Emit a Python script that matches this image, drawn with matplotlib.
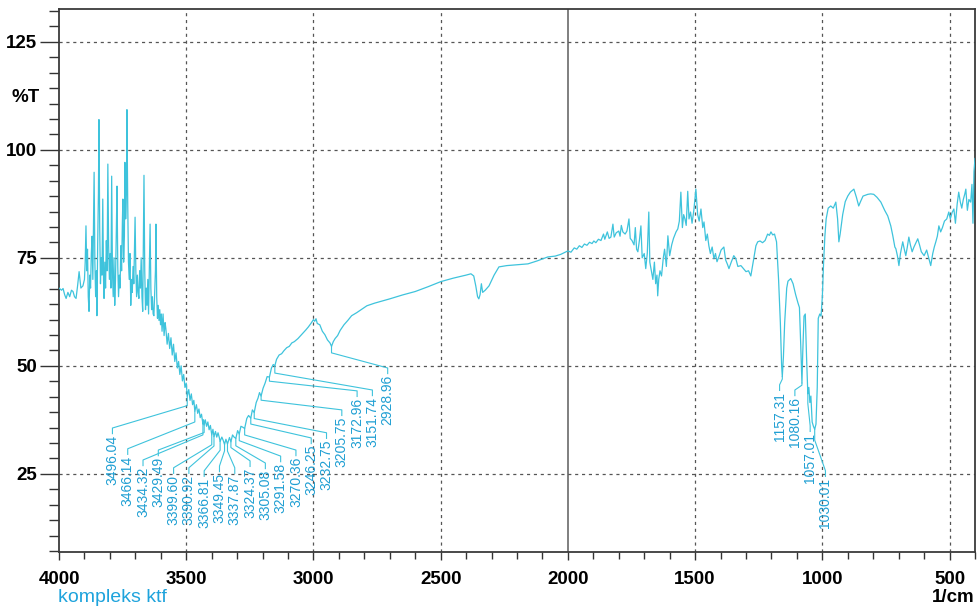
import numpy as np
import matplotlib
matplotlib.use("Agg")
import matplotlib.pyplot as plt
from matplotlib.ticker import FixedLocator, MultipleLocator

# ---------------- spectrum data (wavenumber in 1/cm, transmittance in %T) ----------------
wn_oh = [4000, 3990, 3984, 3978, 3972, 3965, 3958, 3951, 3945, 3939, 3933, 3927, 3921, 3914,
         3906, 3900, 3897, 3894, 3891, 3888, 3885, 3882, 3879, 3876, 3873, 3870, 3867, 3864,
         3862, 3859, 3856, 3853, 3851, 3848, 3845, 3843, 3840, 3837, 3834, 3831, 3828, 3825,
         3823, 3820, 3817, 3814, 3811, 3808, 3805, 3802, 3799, 3796, 3793, 3790, 3787, 3784,
         3781, 3778, 3775, 3772, 3769, 3766, 3763, 3760, 3757, 3754, 3751, 3749, 3746, 3743,
         3741, 3738, 3735, 3733, 3730, 3727, 3724, 3721, 3718, 3715, 3712, 3709, 3706, 3703,
         3701, 3698, 3695, 3692, 3689, 3686, 3683, 3680, 3677, 3674, 3671, 3668, 3666, 3663,
         3660, 3657, 3654, 3651, 3648, 3645, 3642, 3639, 3636, 3633, 3630, 3627, 3624, 3621,
         3619, 3616, 3613, 3610, 3607, 3604, 3601, 3598, 3595, 3591, 3587, 3583, 3580, 3575,
         3570, 3565, 3560, 3555, 3550, 3545, 3540, 3535, 3530, 3525, 3520, 3515, 3510, 3505,
         3500]
t_oh = [68.0, 67.5, 67.9, 66.5, 65.6, 67.0, 66.0, 67.5, 67.2, 66.0, 65.6, 68.5, 71.8, 68.0,
        68.5, 70.0, 74.0, 82.4, 72.0, 77.0, 66.0, 62.6, 71.0, 68.0, 76.0, 80.0, 70.0, 84.7,
        94.8, 74.0, 66.0, 72.0, 61.6, 78.0, 90.0, 107.0, 82.0, 69.0, 75.0, 71.0, 88.6, 70.0,
        65.6, 74.0, 68.0, 79.0, 72.0, 96.7, 78.0, 70.0, 76.0, 68.0, 93.9, 72.0, 66.0, 75.0,
        64.0, 70.0, 80.0, 91.6, 73.0, 66.0, 71.0, 68.0, 77.8, 72.0, 83.0, 88.6, 74.0, 80.0,
        97.1, 84.0, 90.0, 109.3, 88.0, 74.0, 70.0, 76.0, 64.0, 70.0, 67.0, 73.0, 69.0, 78.0,
        84.4, 72.0, 66.0, 71.0, 67.0, 65.6, 72.0, 68.0, 75.0, 66.0, 62.6, 80.0, 94.1, 72.0,
        63.0, 68.0, 64.0, 70.0, 62.0, 72.0, 82.8, 68.0, 63.0, 66.0, 62.0, 61.6, 67.0, 72.0,
        82.8, 66.0, 61.0, 64.0, 60.5, 63.0, 59.5, 62.0, 58.0, 62.0, 57.0, 60.0, 58.6, 55.0,
        57.5, 54.0, 56.5, 52.5, 55.0, 51.0, 53.0, 49.5, 51.0, 48.0, 50.0, 46.5, 48.0, 45.0,
        46.0]

wn_nh = [3496.04, 3490, 3485, 3480, 3475, 3470, 3466.14, 3460, 3455, 3450, 3445, 3440,
         3434.32, 3432, 3429.49, 3425, 3420, 3415, 3410, 3405, 3399.60, 3395, 3390.92, 3385,
         3380, 3375, 3370, 3366.81, 3360, 3355, 3349.45, 3344, 3337.87, 3330, 3324.37, 3318,
         3312, 3305.08, 3298, 3291.58, 3285, 3278, 3270.36, 3262, 3255, 3246.25, 3240,
         3232.75, 3225, 3218, 3212, 3205.75, 3198, 3190, 3182, 3172.96, 3165, 3158, 3151.74,
         3145, 3135, 3125, 3116, 3105, 3095, 3085, 3075, 3061, 3050, 3040, 3030, 3020, 3010,
         3000, 2995, 2990, 2985, 2975, 2965, 2955, 2945, 2935, 2928.96, 2922, 2915, 2905,
         2895, 2880, 2865, 2850, 2830, 2810, 2790, 2760, 2730, 2700, 2650, 2600, 2550]
t_nh = [43.0, 44.5, 42.0, 43.5, 41.0, 42.0, 39.5, 41.0, 39.0, 40.0, 38.0, 38.8,
        36.5, 37.5, 36.3, 37.5, 36.0, 37.0, 35.2, 36.2, 34.0, 35.3, 33.6, 34.8,
        33.5, 34.5, 33.4, 32.5, 33.5, 32.8, 31.8, 33.0, 31.9, 33.4, 32.4, 34.0,
        33.5, 33.2, 35.0, 34.2, 36.0, 35.8, 35.5, 37.8, 38.5, 37.9, 39.8,
        39.2, 41.5, 42.5, 43.8, 43.0, 44.8, 46.0, 47.5, 47.4, 49.5, 50.3, 50.0,
        51.5, 52.5, 52.8, 53.5, 54.2, 54.5, 55.3, 55.6, 56.3, 57.0, 57.6, 58.3, 59.0, 59.8,
        60.7, 60.3, 60.9, 59.8, 59.5, 58.0, 57.2, 56.0, 55.3, 54.5, 55.6, 56.3, 57.0,
        58.2, 59.5, 60.5, 61.6, 62.3, 63.1, 63.9, 64.5, 65.0, 65.5, 66.4, 67.2, 68.3]

wn_mid = [2499, 2450, 2400, 2381, 2370, 2362, 2355, 2350, 2345, 2340, 2335, 2325, 2310, 2290,
          2271, 2240, 2200, 2157, 2120, 2079, 2050, 2028, 2000, 1988, 1975, 1965, 1955, 1945,
          1935, 1925, 1915, 1905, 1898, 1890, 1880, 1870, 1860, 1855, 1845, 1838, 1831, 1823,
          1818, 1810, 1800, 1795, 1790, 1784, 1775, 1768, 1760, 1755, 1748, 1740, 1735, 1730,
          1725, 1719, 1713, 1708, 1700, 1694, 1688, 1682, 1678, 1672, 1666, 1660, 1655, 1650,
          1647, 1643, 1638, 1632, 1625, 1620, 1613, 1607, 1600, 1592, 1585, 1575, 1568, 1562,
          1556, 1550, 1545, 1540, 1535, 1529, 1524, 1518, 1512, 1505, 1497, 1490, 1484, 1477,
          1470, 1465, 1458, 1452, 1446, 1440, 1433, 1426, 1420, 1414, 1405, 1398, 1387, 1380,
          1373, 1367, 1358, 1348, 1340, 1332, 1320, 1310, 1300, 1290, 1281, 1272, 1261, 1254,
          1245, 1235, 1225, 1215, 1208, 1202, 1195, 1188, 1180, 1172]
t_mid = [69.5, 70.3, 71.0, 71.3, 70.8, 68.5, 66.0, 65.5, 66.5, 69.0, 67.0, 67.5, 68.5, 71.0,
         72.9, 73.2, 73.4, 73.6, 74.3, 75.2, 75.4, 75.8, 76.6, 76.3, 77.3, 77.0, 77.8, 77.4,
         78.2, 77.9, 78.6, 78.3, 78.9, 78.5, 79.3, 79.0, 80.5, 79.3, 81.0, 79.5, 79.8, 82.8,
         79.8, 80.8, 81.2, 80.0, 82.5, 81.0, 80.5, 81.2, 84.0, 79.5, 79.0, 78.0, 82.0, 77.0,
         76.4, 79.0, 82.4, 75.0, 76.0, 72.5, 76.0, 85.6, 74.0, 72.0, 70.0, 74.0, 69.0, 71.0,
         66.2, 70.0, 72.0, 70.8, 75.0, 77.0, 73.0, 80.1, 75.5, 78.0, 79.5, 81.0, 81.7, 83.5,
         90.2, 82.0, 85.0, 84.0, 82.5, 90.4, 84.0, 85.6, 83.0, 86.0, 90.9, 85.0, 83.5, 86.3,
         82.0, 83.3, 79.0, 80.5, 77.8, 76.0, 77.5, 74.8, 76.0, 74.1, 75.5, 76.8, 77.5, 74.5,
         73.5, 72.5, 74.0, 75.5, 74.8, 73.0, 73.2, 72.5, 71.8, 72.0, 70.8, 74.0, 77.8, 78.7,
         78.9, 78.5, 79.0, 80.5, 80.2, 81.0, 80.3, 80.5, 78.7, 70.0]

wn_fp = [1165, 1160, 1157.31, 1153, 1148, 1140, 1135, 1124, 1115, 1105, 1096, 1090, 1085,
         1080.16, 1077, 1072, 1067, 1062, 1057.01, 1053, 1049, 1045, 1040, 1035, 1030.01,
         1025, 1020, 1016, 1010, 1005, 1000, 995, 990, 985, 977, 967, 957, 947, 940, 935,
         930, 920, 910, 900, 890, 876, 866, 857, 850, 840, 821, 810, 798, 785, 770, 755, 743,
         731, 723, 715, 711, 705, 699, 693, 684, 678, 672, 666, 660, 654, 647, 640, 632, 625,
         618, 611, 600, 590, 580, 574, 566, 560, 554, 548, 542, 535, 528, 520, 511, 503, 497,
         490, 483, 477, 470, 464, 458, 452, 446, 440, 436, 430, 424, 417, 412, 408, 404, 400]
t_fp = [60.0, 50.0, 47.5, 52.0, 60.0, 68.0, 69.6, 70.2, 69.0, 66.5, 64.6, 63.5, 55.0,
        46.0, 53.0, 61.5, 62.0, 52.0, 43.5, 45.0, 41.5, 43.0, 37.0, 36.0, 35.3,
        36.5, 45.0, 61.0, 62.0, 61.5, 66.0, 74.0, 80.0, 84.0, 86.5, 87.0, 86.5, 87.9, 84.0,
        78.7, 80.5, 85.0, 88.0, 89.3, 90.2, 90.9, 89.0, 87.0, 88.0, 89.3, 89.7, 89.8, 89.7,
        89.0, 87.9, 86.0, 84.7, 82.4, 80.1, 77.5, 77.1, 75.5, 73.2, 76.0, 78.7, 77.0, 75.5,
        77.5, 79.8, 78.0, 76.4, 77.5, 78.5, 79.4, 78.0, 76.4, 75.5, 76.8, 74.5, 73.2, 76.0,
        77.5, 78.7, 80.0, 82.4, 81.0, 82.0, 83.5, 84.0, 85.6, 84.0, 85.5, 86.3, 83.0, 87.5,
        90.2, 88.0, 86.5, 88.5, 89.8, 90.9, 86.0, 88.5, 87.9, 92.0, 83.0, 95.0, 98.0]

# peak picks printed on the chart
peaks_nh = ["3496.04", "3466.14", "3434.32", "3429.49", "3399.60", "3390.92", "3366.81",
            "3349.45", "3337.87", "3324.37", "3305.08", "3291.58", "3270.36", "3246.25",
            "3232.75", "3205.75", "3172.96", "3151.74", "2928.96"]
peaks_fp = ["1157.31", "1080.16", "1057.01", "1030.01"]

x_ticks = [4000, 3500, 3000, 2500, 2000, 1500, 1000, 500]
y_ticks = [25, 50, 75, 100, 125]

# ---------------- layout ----------------
label_tops_nh = [34.0, 29.2, 26.6, 28.9, 24.8, 24.8, 24.1, 25.2, 24.8, 26.4, 25.9, 27.5,
                 28.9, 31.7, 32.9, 38.2, 42.6, 42.8, 47.9]
label_tops_fp = [44.0, 42.8, 34.5, 24.1]

wn = np.array(wn_oh + wn_nh + wn_mid + wn_fp)
tr = np.array(t_oh + t_nh + t_mid + t_fp)

FONT = ["Liberation Sans", "DejaVu Sans"]
plt.rcParams["font.family"] = FONT

LINE_C = "#3ec3dc"
LABEL_C = "#1f9fd3"
GRID_C = "#555555"

fig = plt.figure(figsize=(9.79, 6.13), dpi=100)
W, H = 979, 613
ax = fig.add_axes([59 / W, (H - 552) / H, (975 - 59) / W, (552 - 9) / H])
ax.set_xlim(4000, 400)
ax.set_ylim(6.9, 132.6)

# grid
for xv in x_ticks:
    if xv == 2000:
        ax.axvline(xv, color="#6a6a6a", lw=1.2, zorder=1)
    elif xv != 4000:
        ax.axvline(xv, color=GRID_C, lw=0.9, ls=(0, (2.5, 3)), zorder=1)
for yv in y_ticks:
    ax.axhline(yv, color=GRID_C, lw=0.9, ls=(0, (2.5, 3)), zorder=1)

ax.plot(wn, tr, color=LINE_C, lw=0.9, zorder=3)

# ticks
ax.set_xticks(x_ticks)
ax.xaxis.set_minor_locator(MultipleLocator(100))
ax.set_yticks(y_ticks)
ax.yaxis.set_minor_locator(FixedLocator(125 - (25 / 7) * np.arange(-2, 34)))
ax.tick_params(axis="both", which="both", direction="out", color="#333333", width=1.0)
ax.tick_params(axis="y", which="major", length=14, labelsize=13.5, pad=2)
ax.tick_params(axis="y", which="minor", length=7)
ax.tick_params(axis="x", which="major", length=6, labelsize=13.5, pad=8)
ax.tick_params(axis="x", which="minor", length=5)
for lab in ax.get_xticklabels() + ax.get_yticklabels():
    lab.set_fontweight("bold")
for sp in ax.spines.values():
    sp.set_color("#3a3a3a")
    sp.set_linewidth(1.3)


def draw_peaks(labels, tops, x0, step):
    """Vertical peak labels joined to their minima by bent leader lines."""
    for i, (lab, top) in enumerate(zip(labels, tops)):
        p = float(lab)
        tp = float(np.interp(p, wn[::-1], tr[::-1]))
        lx = x0 - step * i
        knee = top + 1.6
        drop = min(2.5, max(0.3, (tp - knee) * 0.3))
        ax.plot([p, p, lx, lx], [tp, tp - drop, knee, top + 0.3],
                color=LINE_C, lw=0.8, zorder=2)
        ax.text(lx, top, lab, rotation=90, ha="center", va="top", fontsize=10,
                color=LABEL_C, zorder=4)


draw_peaks(peaks_nh, label_tops_nh, 3790, 60.1)
draw_peaks(peaks_fp, label_tops_fp, 1168, 60.1)

fig.text(12 / W, 1 - 97 / H, "%T", fontsize=13.5, fontweight="bold", va="center", ha="left")
fig.text(975 / W, 1 - 597 / H, "1/cm", fontsize=13.5, fontweight="bold", va="center", ha="right")
fig.text(58 / W, 1 - 598 / H, "kompleks ktf", fontsize=14, color="#1ea3dc", va="center", ha="left")

fig.savefig("out.png", dpi=100)
